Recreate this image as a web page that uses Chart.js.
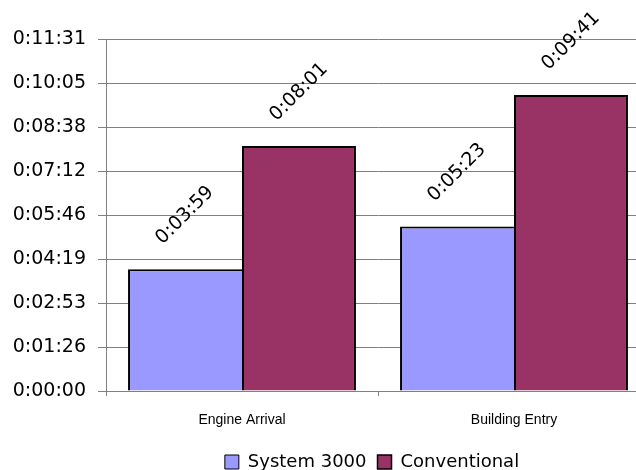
<!DOCTYPE html>
<html>
<head>
<meta charset="utf-8">
<script src="https://cdn.jsdelivr.net/npm/chart.js@4/dist/chart.umd.min.js"></script>
<style>
  html, body { margin: 0; padding: 0; background: #fff; overflow: hidden; }
  #wrap { width: 660px; height: 470px; }
</style>
</head>
<body>
<div id="wrap"><canvas id="c" width="660" height="470"></canvas></div>
<script>
// Response times in seconds
const categories = ['Engine Arrival', 'Building Entry'];
const system3000 = [239, 323];     // 0:03:59, 0:05:23
const conventional = [481, 581];   // 0:08:01, 0:09:41
const yTickLabels = ['0:00:00', '0:01:26', '0:02:53', '0:04:19', '0:05:46',
                     '0:07:12', '0:08:38', '0:10:05', '0:11:31'];
const yStep = 86.4;                // one thousandth of a day
const yMax = yStep * (yTickLabels.length - 1);

function hms(sec) {
  const s = Math.round(sec);
  const h = Math.floor(s / 3600);
  const m = Math.floor((s % 3600) / 60);
  const r = s % 60;
  return h + ':' + String(m).padStart(2, '0') + ':' + String(r).padStart(2, '0');
}

const FONT = "'DejaVu Sans', sans-serif";

// Rotated value labels above each bar
const barLabels = {
  id: 'barLabels',
  afterDatasetsDraw(chart) {
    const ctx = chart.ctx;
    ctx.save();
    ctx.font = '19px ' + FONT;
    ctx.fillStyle = '#000';
    ctx.textAlign = 'center';
    ctx.textBaseline = 'middle';
    chart.data.datasets.forEach((ds, di) => {
      chart.getDatasetMeta(di).data.forEach((bar, i) => {
        ctx.save();
        ctx.translate(bar.x, bar.y - 54);
        ctx.rotate(-Math.PI / 4);
        ctx.fillText(hms(ds.data[i]), 0, 0);
        ctx.restore();
      });
    });
    ctx.restore();
  }
};

// Nudge the legend row lower and slightly left in its band
const legendOffset = {
  id: 'legendOffset',
  afterLayout(chart) {
    const lg = chart.legend;
    if (lg) {
      lg.top += 11; lg.bottom += 11;
      lg.left -= 6; lg.right -= 6;
    }
  }
};

new Chart(document.getElementById('c'), {
  type: 'bar',
  data: {
    labels: categories,
    datasets: [
      { label: 'System 3000', data: system3000, backgroundColor: '#9999FF',
        borderColor: '#000', borderWidth: { left: 2, top: 2, right: 0, bottom: 0 },
        borderSkipped: 'bottom' },
      { label: 'Conventional', data: conventional, backgroundColor: '#993366',
        borderColor: '#000', borderWidth: { left: 2, top: 2, right: 2, bottom: 0 },
        borderSkipped: 'bottom' }
    ]
  },
  options: {
    responsive: false,
    animation: false,
    devicePixelRatio: 1,
    datasets: { bar: { categoryPercentage: 0.838, barPercentage: 1 } },
    layout: { padding: { left: 0, right: 10, top: 39, bottom: 0 } },
    plugins: {
      tooltip: { enabled: false },
      legend: {
        position: 'bottom',
        fullSize: false,
        labels: {
          font: { family: FONT, size: 18 },
          color: '#000',
          boxWidth: 14,
          boxHeight: 14,
          padding: 11
        }
      }
    },
    scales: {
      x: {
        grid: { offset: true, drawOnChartArea: false, tickLength: 5, color: '#808080' },
        border: { color: '#808080', width: 1 },
        ticks: { font: { family: "'Liberation Sans', sans-serif", size: 14 }, color: '#000', padding: 16 },
        afterFit(scale) { scale.height = 40; }
      },
      y: {
        min: 0,
        max: yMax,
        grid: { color: '#808080', tickLength: 8 },
        border: { color: '#808080', width: 1 },
        ticks: {
          stepSize: yStep,
          padding: 12,
          font: { family: FONT, size: 19 },
          color: '#000',
          callback: (v, i) => yTickLabels[i]
        },
        afterFit(scale) { scale.width = 106; }
      }
    }
  },
  plugins: [barLabels, legendOffset]
});
</script>
</body>
</html>
